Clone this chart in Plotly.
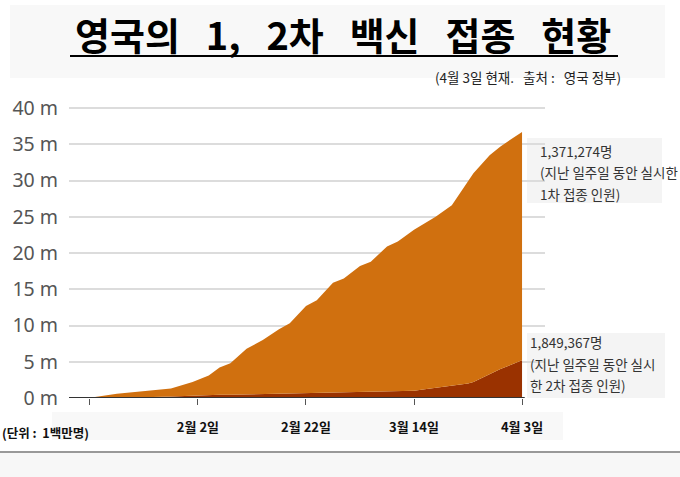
import plotly.graph_objects as go

# 날짜 / 누적 접종 인원 (단위: 백만명)
dates = ["2021-01-09", "2021-01-13", "2021-01-18", "2021-01-23", "2021-01-28",
         "2021-02-01", "2021-02-04", "2021-02-06", "2021-02-08", "2021-02-11",
         "2021-02-14", "2021-02-17", "2021-02-19", "2021-02-22", "2021-02-24",
         "2021-02-27", "2021-03-01", "2021-03-04", "2021-03-06", "2021-03-09",
         "2021-03-11", "2021-03-14", "2021-03-16", "2021-03-18", "2021-03-21",
         "2021-03-24", "2021-03-25", "2021-03-28", "2021-03-30", "2021-04-03"]

# 1차+2차 합계 (주황 영역 윗선)
total = [0, 0.05, 0.6, 0.9, 1.3, 2.2, 3.1, 4.2, 4.8, 6.8,
         8.0, 9.5, 10.3, 12.7, 13.5, 15.9, 16.5, 18.2, 18.8, 20.9,
         21.6, 23.2, 24.1, 25.0, 26.6, 29.8, 31.0, 33.5, 34.7, 36.7]

# 2차 접종 (진한 갈색 영역)
second = [0, 0, 0.05, 0.1, 0.2, 0.35, 0.4, 0.45, 0.45, 0.5,
          0.5, 0.55, 0.55, 0.6, 0.65, 0.7, 0.7, 0.75, 0.8, 0.85,
          0.9, 1.0, 1.2, 1.4, 1.6, 2.0, 2.2, 3.3, 4.0, 5.2]

tick_dates = ["2021-01-13", "2021-02-02", "2021-02-22", "2021-03-14", "2021-04-03"]
tick_text = ["", "<b>2월 2일</b>", "<b>2월 22일</b>", "<b>3월 14일</b>", "<b>4월 3일</b>"]
y_ticks = [0, 5, 10, 15, 20, 25, 30, 35, 40]
y_text = ["%d m" % v for v in y_ticks]

ORANGE = "#D0700F"
BROWN = "#9A3200"
KR = "Noto Sans CJK KR"

W, H = 680, 477
L, R, T, B = 69, 135, 104, 79
pw, ph = W - L - R, H - T - B


def px(x):
    return (x - L) / pw


def py(y):
    return (H - B - y) / ph


fig = go.Figure()

fig.add_trace(go.Scatter(
    x=dates, y=second, mode="lines", line=dict(width=0, color=BROWN),
    fill="tozeroy", fillcolor=BROWN, hoverinfo="skip"))
fig.add_trace(go.Scatter(
    x=dates, y=total, mode="lines", line=dict(width=0, color=ORANGE),
    fill="tonexty", fillcolor=ORANGE, hoverinfo="skip"))

shapes = [
    # 제목 배경
    dict(type="rect", xref="paper", yref="paper", x0=px(10), x1=px(665),
         y0=py(78), y1=py(5), fillcolor="#f8f8f8", line_width=0, layer="below"),
    # 제목 밑줄
    dict(type="line", xref="paper", yref="paper", x0=px(70), x1=px(618),
         y0=py(56), y1=py(56), line=dict(color="black", width=2)),
    # x축 라벨 배경
    dict(type="rect", xref="paper", yref="paper", x0=px(52), x1=px(563),
         y0=py(440), y1=py(412), fillcolor="#f8f8f8", line_width=0, layer="below"),
    # 주석 박스
    dict(type="rect", xref="paper", yref="paper", x0=px(527), x1=px(662),
         y0=py(203), y1=py(138), fillcolor="#f4f4f4", line_width=0, layer="below"),
    dict(type="rect", xref="paper", yref="paper", x0=px(527), x1=px(665),
         y0=py(398), y1=py(333), fillcolor="#f4f4f4", line_width=0, layer="below"),
    # 기준선
    dict(type="line", xref="x", yref="y", x0="2021-01-09 03:00", x1="2021-04-03 12:00",
         y0=0, y1=0, line=dict(color="#333", width=2)),
    # 하단 구분선 / 띠
    dict(type="line", xref="paper", yref="paper", x0=px(0), x1=px(680),
         y0=py(452), y1=py(452), line=dict(color="#999", width=2)),
    dict(type="rect", xref="paper", yref="paper", x0=px(0), x1=px(680),
         y0=py(477), y1=py(453), fillcolor="#f7f7f7", line_width=0, layer="below"),
]

sp = "\u00a0\u00a0 "
annotations = [
    dict(text="<b>영국의" + sp + "1," + sp + "2차" + sp + "백신" + sp + "접종" + sp + "현황</b>",
         xref="paper", yref="paper", x=px(343), y=py(34), showarrow=False,
         xanchor="center", yanchor="middle", font=dict(family=KR, size=38, color="black")),
    dict(text="(4월 3일 현재.\u00a0\u00a0 출처 :\u00a0\u00a0 영국 정부)",
         xref="paper", yref="paper", x=px(623), y=py(77), showarrow=False,
         xanchor="right", yanchor="middle", font=dict(family=KR, size=13.5, color="#222")),
    dict(text="<b>(단위 :\u00a0 1백만명)</b>",
         xref="paper", yref="paper", x=px(0), y=py(432), showarrow=False,
         xanchor="left", yanchor="middle", font=dict(family=KR, size=12.5, color="#111")),
]

notes = [
    (538, 151, "1,371,274명"), (538, 172, "(지난 일주일 동안 실시한"), (538, 194, "1차 접종 인원)"),
    (528, 342, "1,849,367명"), (528, 364, "(지난 일주일 동안 실시"), (528, 385, "한 2차 접종 인원)"),
]
for nx, ny, t in notes:
    annotations.append(dict(text=t, xref="paper", yref="paper", x=px(nx), y=py(ny),
                            showarrow=False, xanchor="left", yanchor="middle",
                            font=dict(family=KR, size=13.5, color="#333")))

fig.update_layout(
    width=W, height=H,
    margin=dict(l=L, r=R, t=T, b=B),
    paper_bgcolor="white", plot_bgcolor="white",
    showlegend=False,
    shapes=shapes, annotations=annotations,
    xaxis=dict(type="date", range=["2021-01-09 03:00", "2021-04-07 06:00"],
               tickvals=tick_dates, ticktext=tick_text, ticks="outside",
               ticklen=6, tickcolor="#555", showgrid=False, zeroline=False,
               showline=False, ticklabelstandoff=11,
               tickfont=dict(family=KR, size=13, color="#111")),
    yaxis=dict(range=[0, ph / 7.25], tickvals=y_ticks, ticktext=y_text,
               showgrid=True, gridcolor="#dcdcdc", gridwidth=1.5, zeroline=False,
               showline=False, ticklabelstandoff=10,
               tickfont=dict(family="Noto Sans", size=19.5, color="#555")),
)

fig.write_html("out.html", config={"displayModeBar": False},
               post_script="document.body.style.margin='0';")
